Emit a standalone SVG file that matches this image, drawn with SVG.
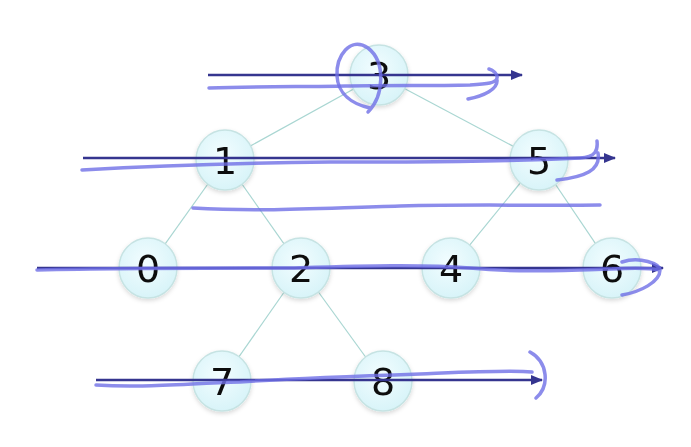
<svg xmlns="http://www.w3.org/2000/svg" width="691" height="447" viewBox="0 0 691 447">
<style>
.n ellipse{fill:url(#g);stroke:#c6e3e3;stroke-width:1.5}
.n text{font-family:"DejaVu Sans",sans-serif;font-size:38px;fill:#111;text-anchor:middle}
.e line{stroke:#a9d6d2;stroke-width:1.2}
.a line{stroke:#35358f;stroke-width:2.4;marker-end:url(#ah)}
.h path{fill:none;stroke:#6f6fe6;stroke-opacity:0.8;stroke-width:3.5;stroke-linecap:round;stroke-linejoin:round}
</style>
<defs>
<radialGradient id="g" cx="0.45" cy="0.4" r="0.65">
<stop offset="0" stop-color="#f2fdff"/>
<stop offset="1" stop-color="#d6f3f8"/>
</radialGradient>
<marker id="ah" markerWidth="12" markerHeight="10" refX="11" refY="5" orient="auto" markerUnits="userSpaceOnUse" viewBox="0 0 12 10">
<path d="M0,0 L12,5 L0,10 Z" fill="#35358f"/>
</marker>
<filter id="sh" x="-20%" y="-20%" width="140%" height="150%">
<feDropShadow dx="0" dy="2" stdDeviation="2" flood-color="#000" flood-opacity="0.15"/>
</filter>
</defs>
<rect width="691" height="447" fill="#fff"/>
<g id="edges" class="e">
<line x1="379" y1="75" x2="225" y2="160"/>
<line x1="379" y1="75" x2="539" y2="160"/>
<line x1="225" y1="160" x2="148" y2="268"/>
<line x1="225" y1="160" x2="301" y2="268"/>
<line x1="539" y1="160" x2="451" y2="268"/>
<line x1="539" y1="160" x2="612" y2="268"/>
<line x1="301" y1="268" x2="222" y2="381"/>
<line x1="301" y1="268" x2="383" y2="381"/>
</g>
<g filter="url(#sh)">
<g id="n3" class="n"><ellipse cx="379" cy="75" rx="29" ry="30"/><text x="379" y="89">3</text></g>
<g id="n1" class="n"><ellipse cx="225" cy="160" rx="29" ry="30"/><text x="225" y="174">1</text></g>
<g id="n5" class="n"><ellipse cx="539" cy="160" rx="29" ry="30"/><text x="539" y="174">5</text></g>
<g id="n0" class="n"><ellipse cx="148" cy="268" rx="29" ry="30"/><text x="148" y="282">0</text></g>
<g id="n2" class="n"><ellipse cx="301" cy="268" rx="29" ry="30"/><text x="301" y="282">2</text></g>
<g id="n4" class="n"><ellipse cx="451" cy="268" rx="29" ry="30"/><text x="451" y="282">4</text></g>
<g id="n6" class="n"><ellipse cx="612" cy="268" rx="29" ry="30"/><text x="612" y="282">6</text></g>
<g id="n7" class="n"><ellipse cx="222" cy="381" rx="29" ry="30"/><text x="222" y="395">7</text></g>
<g id="n8" class="n"><ellipse cx="383" cy="381" rx="29" ry="30"/><text x="383" y="395">8</text></g>
</g>
<g id="connectors">
<g class="a">
<line x1="208" y1="75" x2="522" y2="75"/>
<line x1="83" y1="158" x2="615" y2="158"/>
<line x1="37" y1="268" x2="663" y2="268"/>
<line x1="96" y1="380" x2="542" y2="380"/>
</g>
<g class="h">
<path d="M209,88 C260,86 310,87 345,86 C385,85 430,86 470,85 C488,84 496,83 497,78 C498,74 493,70 489,69 M497,80 C498,89 484,96 468,99"/>
<path d="M368,112 C384,96 386,62 368,48 C350,36 336,56 337,76 C338,94 352,104 370,108"/>
<path d="M82,170 C150,166 230,163 330,162 C420,162 500,162 580,158 C596,157 598,150 597,141 M598,153 C601,170 585,177 557,180"/>
<path d="M193,208 C260,212 320,208 400,206 C480,204 540,206 600,205"/>
<path d="M37,270 C120,268 200,268 290,268 C360,266 420,264 470,268 C520,273 570,270 612,269 C630,268 650,268 660,270 M622,262 C640,256 660,264 660,270 C660,282 640,292 622,295"/>
<path d="M96,385 C140,388 180,384 240,382 C300,378 360,376 420,374 C470,372 510,370 532,372 M530,352 C548,362 550,386 536,398"/>
</g>
</g>
</svg>
